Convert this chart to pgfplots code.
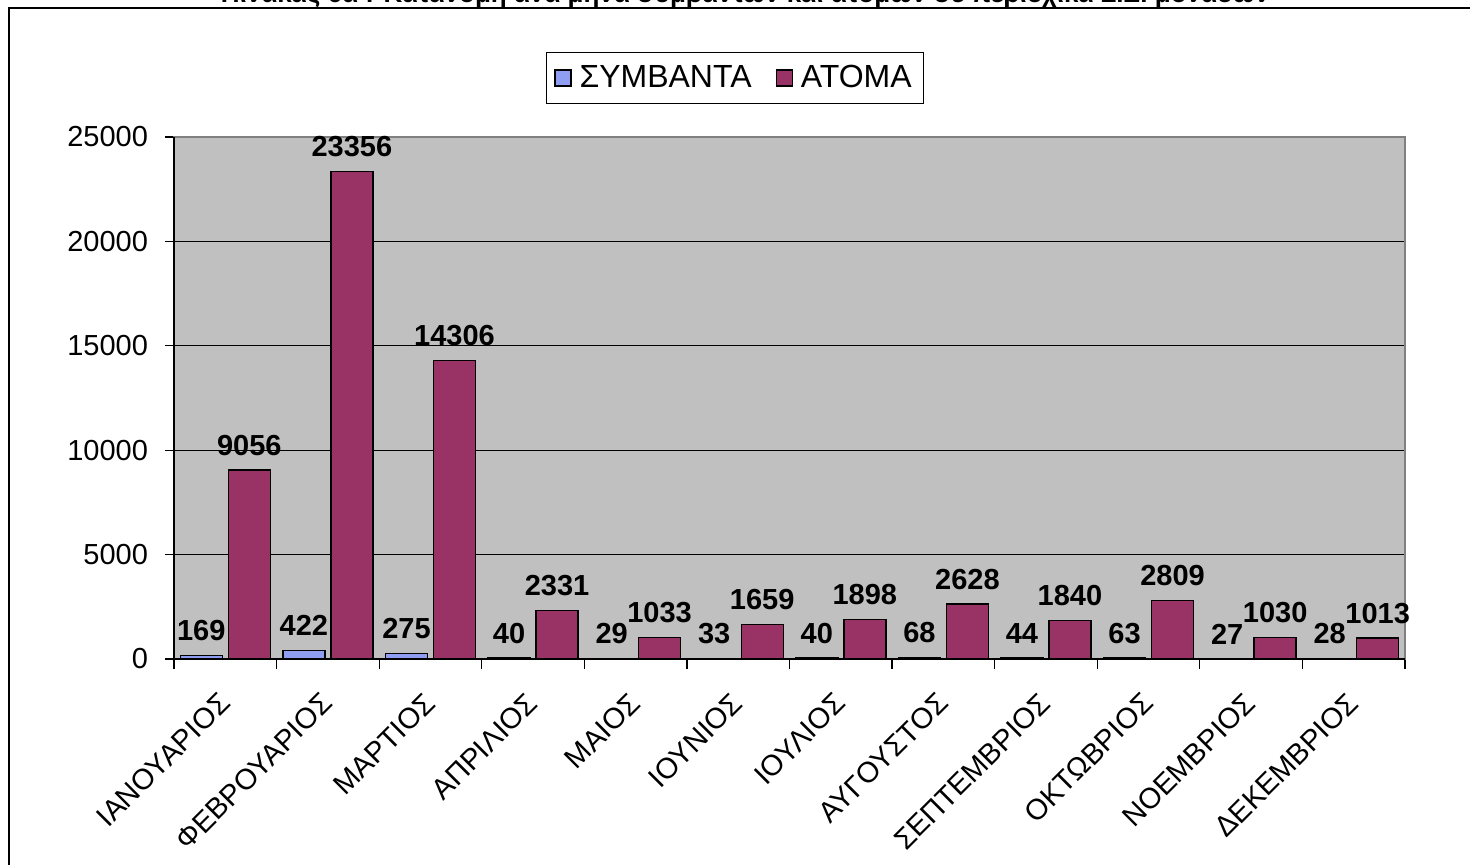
\documentclass[border=0pt]{standalone}
\usepackage{fontspec}
\setmainfont{Liberation Sans}
\usepackage{pgfplots}
\pgfplotsset{compat=1.18}

\definecolor{plotgray}{RGB}{192,192,192}
\definecolor{framegray}{RGB}{128,128,128}
\definecolor{symbblue}{RGB}{143,158,242}
\definecolor{atompurple}{RGB}{153,51,102}

\begin{document}
\begin{tikzpicture}
% page = reference picture, 1px = 0.5pt, origin at the axis' lower left corner
\path[use as bounding box] (-87pt,-102.5pt) rectangle (648pt,329.5pt);
\clip (-87pt,-102.5pt) rectangle (648pt,329.5pt);
\draw[line width=1pt] (-82.5pt,-110pt) -- (-82.5pt,325.5pt) -- (660pt,325.5pt);
\node[anchor=base, font=\bfseries\fontsize{13}{15}\selectfont] at (285.5pt,328pt)
  {Πίνακας 6α : Κατανομή ανά μήνα συμβάντων και ατόμων σε περιοχικά Σ.Ξ. μονάδων};

\begin{axis}[
    at={(0,0)}, anchor=south west,
    scale only axis,
    width=615.5pt, height=261pt,
    ybar=3pt, bar width=21pt,
    xmin=-0.5, xmax=11.5,
    ymin=0, ymax=25000,
    ytick={0,5000,...,25000},
    scaled y ticks=false,
    xtick={0,...,11},
    xticklabels={ΙΑΝΟΥΑΡΙΟΣ,ΦΕΒΡΟΥΑΡΙΟΣ,ΜΑΡΤΙΟΣ,ΑΠΡΙΛΙΟΣ,ΜΑΙΟΣ,ΙΟΥΝΙΟΣ,ΙΟΥΛΙΟΣ,ΑΥΓΟΥΣΤΟΣ,ΣΕΠΤΕΜΒΡΙΟΣ,ΟΚΤΩΒΡΙΟΣ,ΝΟΕΜΒΡΙΟΣ,ΔΕΚΕΜΒΡΙΟΣ},
    minor xtick={-0.5,0.5,...,11.5},
    major x tick style={draw=none},
    minor tick length=5pt,
    major tick length=4.5pt,
    tick align=outside,
    tick style={black, line width=0.6pt},
    xtick pos=bottom, ytick pos=left,
    ymajorgrids,
    grid style={black, line width=0.6pt},
    axis background/.style={fill=plotgray},
    axis line style={framegray, line width=1pt},
    /pgf/number format/assume math mode=true,
    /pgf/number format/1000 sep={},
    tick label style={font=\fontsize{14.5}{16}\selectfont},
    yticklabel style={xshift=-5pt},
    xticklabel style={rotate=45, anchor=north east, xshift=-7.4pt, yshift=-1.8pt},
    nodes near coords,
    every node near coord/.append style={font=\bfseries\fontsize{14.5}{16}\selectfont, black, yshift=3.5pt},
    clip=false,
    legend columns=2,
    legend style={at={(0.4557,1.113)}, anchor=center, draw=black, line width=0.6pt,
        font=\fontsize{16}{18}\selectfont, inner xsep=4pt, inner ysep=4.5pt,
        /tikz/every odd column/.append style={column sep=2pt},
        /tikz/every even column/.append style={column sep=10pt}},
    legend image code/.code={\draw[#1, draw=black, line width=0.6pt] (0pt,-4pt) rectangle (8pt,4pt);},
]
\addplot[fill=symbblue, draw=black, line width=0.7pt] coordinates {
    (0,169) (1,422) (2,275) (3,40) (4,29) (5,33)
    (6,40) (7,68) (8,44) (9,63) (10,27) (11,28)};
\addlegendentry{ΣΥΜΒΑΝΤΑ}
\addplot[fill=atompurple, draw=black, line width=0.7pt] coordinates {
    (0,9056) (1,23356) (2,14306) (3,2331) (4,1033) (5,1659)
    (6,1898) (7,2628) (8,1840) (9,2809) (10,1030) (11,1013)};
\addlegendentry{ΑΤΟΜΑ}
\draw[black, line width=1pt] (rel axis cs:0,1) -- (rel axis cs:0,0) -- (rel axis cs:1,0);
\end{axis}
\end{tikzpicture}
\end{document}
